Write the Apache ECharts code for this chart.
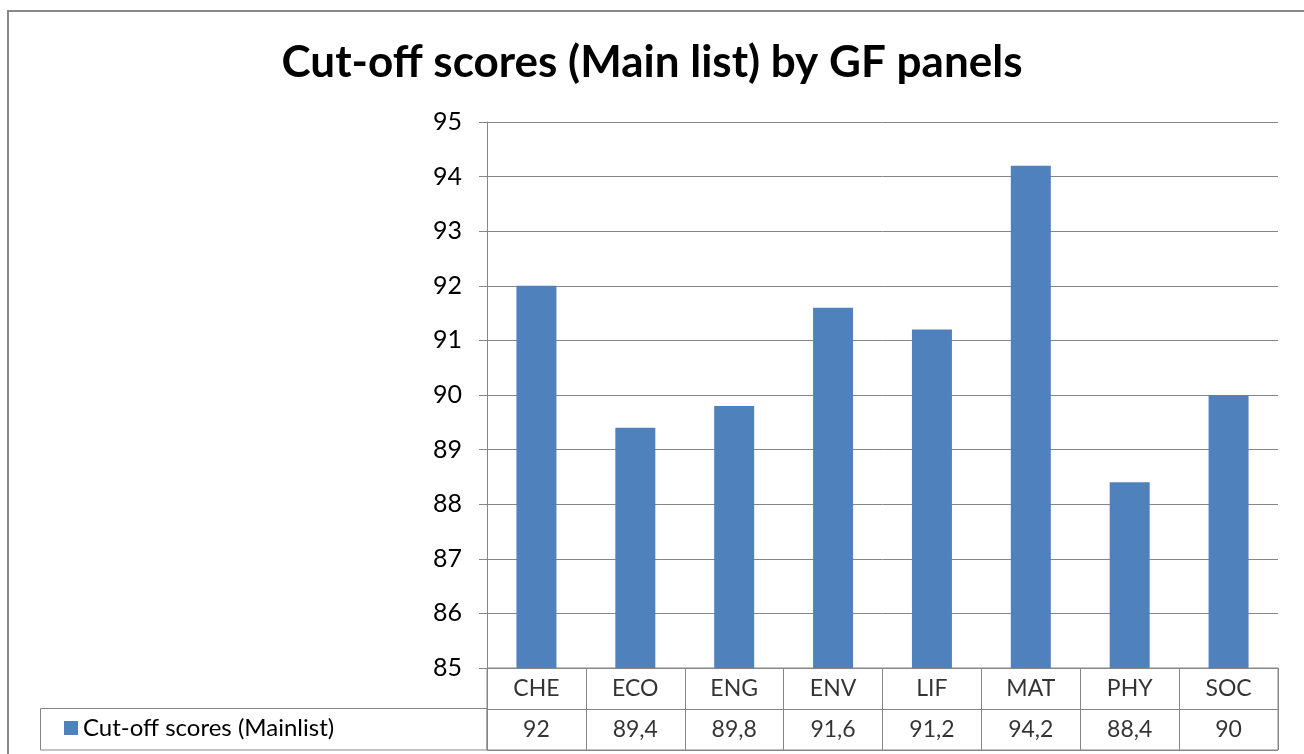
<!DOCTYPE html>
<html>
<head>
<meta charset="utf-8">
<script src="https://cdn.jsdelivr.net/npm/echarts@6/dist/echarts.min.js"></script>
<style>
  html, body { margin: 0; padding: 0; background: #fff; }
  #chart { width: 1304px; height: 754px; }
</style>
</head>
<body>
<div id="chart"></div>
<script>
// data
var titleText = 'Cut-off scores (Main list) by GF panels';
var seriesName = 'Cut-off scores (Mainlist)';
var panels = ['CHE', 'ECO', 'ENG', 'ENV', 'LIF', 'MAT', 'PHY', 'SOC'];
var cutoffScores = [92, 89.4, 89.8, 91.6, 91.2, 94.2, 88.4, 90];
var tableRows = ['header', 'values'];

var fontName = 'Lato, "Open Sans", sans-serif';
var gridColor = '#868686';

// table cells (category row + value row) placed through the table grid's axes
var headerCells = panels.map(function (p) { return { value: [p, 'header'], label: { formatter: p } }; });
var valueCells = panels.map(function (p, i) {
  var txt = String(cutoffScores[i]).replace('.', ',');
  return { value: [p, 'values'], label: { formatter: txt } };
});

var chart = echarts.init(document.getElementById('chart'));
chart.setOption({
  animation: false,
  backgroundColor: '#fff',
  textStyle: { fontFamily: fontName },
  title: {
    text: titleText,
    left: 'center',
    top: 36,
    textStyle: { fontSize: 44, fontWeight: 'bold', color: '#000', fontFamily: fontName }
  },
  legend: {
    data: [seriesName],
    left: 64,
    top: 716,
    padding: 0,
    itemWidth: 14,
    itemHeight: 14,
    itemGap: 7,
    icon: 'rect',
    textStyle: { fontSize: 24, color: '#000', fontFamily: fontName }
  },
  grid: [
    { left: 487, right: 26, top: 122, height: 546 },
    { left: 487, right: 26, top: 668, height: 82, show: true, borderColor: gridColor, borderWidth: 1 }
  ],
  xAxis: [
    {
      type: 'category', data: panels, gridIndex: 0,
      axisLine: { show: false }, axisTick: { show: false }, axisLabel: { show: false }
    },
    {
      type: 'category', data: panels, gridIndex: 1,
      axisLine: { show: false }, axisTick: { show: false }, axisLabel: { show: false },
      splitLine: { show: true, lineStyle: { color: gridColor, width: 1 } }
    }
  ],
  yAxis: [
    {
      type: 'value', gridIndex: 0, min: 85, max: 95, interval: 1,
      axisLine: { show: true, lineStyle: { color: gridColor, width: 1 } },
      axisTick: { show: true, length: 8, lineStyle: { color: gridColor } },
      axisLabel: { fontSize: 25, color: '#000', margin: 25, fontFamily: fontName },
      splitLine: { show: true, lineStyle: { color: gridColor, width: 1 } }
    },
    {
      type: 'category', data: tableRows, gridIndex: 1, inverse: true,
      axisLine: { show: false }, axisTick: { show: false }, axisLabel: { show: false },
      splitLine: { show: true, lineStyle: { color: gridColor, width: 1 } }
    }
  ],
  series: [
    {
      name: seriesName,
      type: 'bar',
      xAxisIndex: 0, yAxisIndex: 0,
      data: cutoffScores,
      barWidth: 40,
      itemStyle: { color: '#4F81BD' }
    },
    {
      name: 'table',
      type: 'scatter',
      xAxisIndex: 1, yAxisIndex: 1,
      symbolSize: 0,
      silent: true,
      label: { show: true, position: 'inside', fontSize: 23, color: '#000', fontFamily: fontName },
      data: headerCells.concat(valueCells)
    }
  ],
  graphic: [
    {
      type: 'rect', silent: true,
      shape: { x: 8, y: 11, width: 1310, height: 800 },
      style: { fill: null, stroke: '#888', lineWidth: 2 }
    },
    {
      type: 'rect', silent: true,
      shape: { x: 40.5, y: 708.5, width: 446.5, height: 41.5 },
      style: { fill: null, stroke: gridColor, lineWidth: 1 }
    }
  ]
});
</script>
</body>
</html>
